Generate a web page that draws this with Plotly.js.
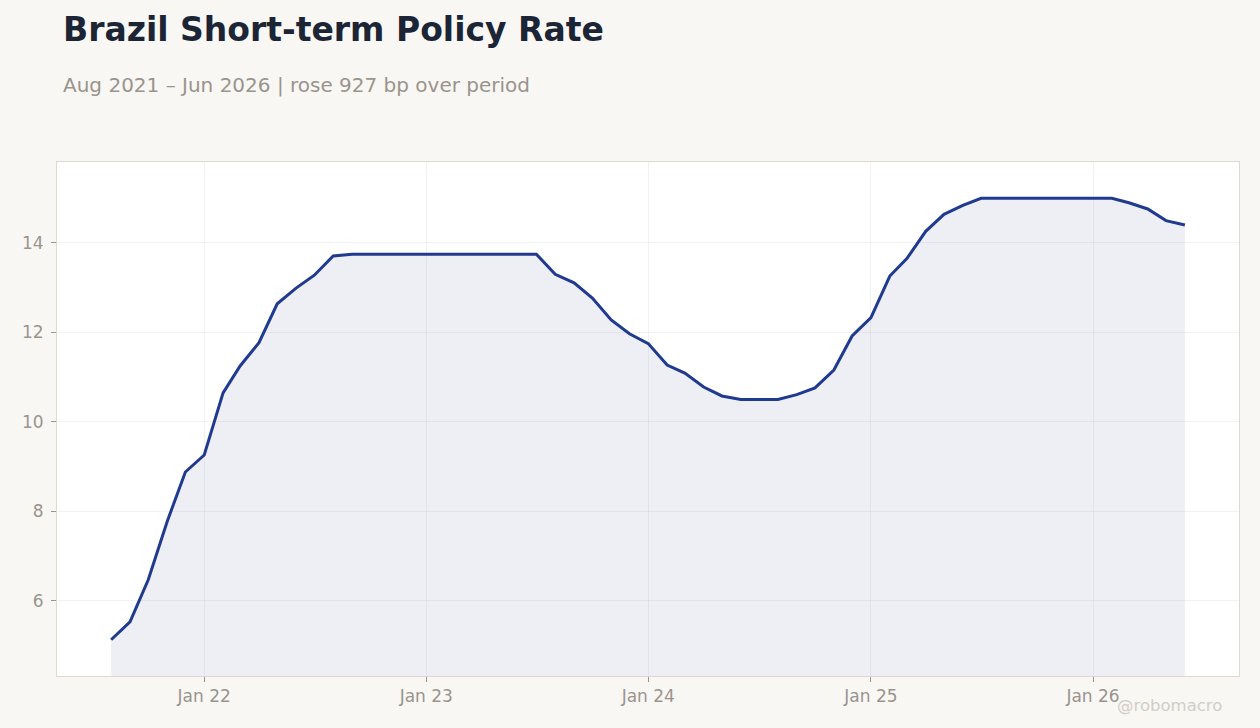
<!DOCTYPE html>
<html>
<head>
<meta charset="utf-8">
<script src="https://cdn.plot.ly/plotly-3.0.1.min.js"></script>
<style>
  html, body { margin: 0; padding: 0; background: #f8f7f4; }
  #chart { width: 1260px; height: 728px; }
</style>
</head>
<body>
<div id="chart"></div>
<script>
// monthly policy rate, Aug 2021 - Jun 2026
let meses = [
  '2021-08-01','2021-09-01','2021-10-01','2021-11-01','2021-12-01',
  '2022-01-01','2022-02-01','2022-03-01','2022-04-01','2022-05-01','2022-06-01',
  '2022-07-01','2022-08-01','2022-09-01','2022-10-01','2022-11-01','2022-12-01',
  '2023-01-01','2023-02-01','2023-03-01','2023-04-01','2023-05-01','2023-06-01',
  '2023-07-01','2023-08-01','2023-09-01','2023-10-01','2023-11-01','2023-12-01',
  '2024-01-01','2024-02-01','2024-03-01','2024-04-01','2024-05-01','2024-06-01',
  '2024-07-01','2024-08-01','2024-09-01','2024-10-01','2024-11-01','2024-12-01',
  '2025-01-01','2025-02-01','2025-03-01','2025-04-01','2025-05-01','2025-06-01',
  '2025-07-01','2025-08-01','2025-09-01','2025-10-01','2025-11-01','2025-12-01',
  '2026-01-01','2026-02-01','2026-03-01','2026-04-01','2026-05-01','2026-06-01'
];
let taxa = [
  5.13, 5.53, 6.47, 7.77, 8.88,
  9.26, 10.65, 11.25, 11.77, 12.64, 12.99,
  13.28, 13.71, 13.75, 13.75, 13.75, 13.75,
  13.75, 13.75, 13.75, 13.75, 13.75, 13.75,
  13.75, 13.30, 13.11, 12.77, 12.28, 11.97,
  11.75, 11.27, 11.09, 10.78, 10.58, 10.50,
  10.50, 10.50, 10.61, 10.76, 11.16, 11.92,
  12.33, 13.26, 13.65, 14.26, 14.64, 14.84,
  15.00, 15.00, 15.00, 15.00, 15.00, 15.00,
  15.00, 15.00, 14.90, 14.76, 14.50, 14.40
];
let ticksX = ['2022-01-01','2023-01-01','2024-01-01','2025-01-01','2026-01-01'];
let rotulosX = ['Jan 22','Jan 23','Jan 24','Jan 25','Jan 26'];

let serie = {
  x: meses,
  y: taxa,
  type: 'scatter',
  mode: 'lines',
  fill: 'tozeroy',
  fillcolor: 'rgba(30,50,130,0.08)',
  line: { color: '#1f3a8f', width: 3 },
  hoverinfo: 'x+y'
};

let cinza = '#9a948d';
let layout = {
  width: 1260,
  height: 728,
  paper_bgcolor: '#f8f7f4',
  plot_bgcolor: '#ffffff',
  font: { family: 'DejaVu Sans, sans-serif', color: cinza, size: 17 },
  margin: { l: 57, r: 21, t: 162, b: 52 },
  showlegend: false,
  xaxis: {
    type: 'date',
    range: ['2021-05-04', '2026-08-29'],
    tickvals: ticksX,
    ticktext: rotulosX,
    showgrid: true,
    gridcolor: 'rgba(0,0,0,0.05)',
    showline: true,
    linecolor: '#ddd8d0',
    mirror: true,
    ticks: 'outside',
    ticklen: 5,
    tickcolor: '#9a948d',
    zeroline: false,
    tickfont: { size: 17, color: cinza }
  },
  yaxis: {
    range: [4.32, 15.81],
    tickvals: [6, 8, 10, 12, 14],
    showgrid: true,
    gridcolor: 'rgba(0,0,0,0.05)',
    showline: true,
    linecolor: '#ddd8d0',
    mirror: true,
    ticks: 'outside',
    ticklen: 5,
    tickcolor: '#9a948d',
    ticklabelstandoff: 4,
    zeroline: false,
    tickfont: { size: 17, color: cinza }
  },
  annotations: [
    {
      text: '<b>Brazil Short-term Policy Rate</b>',
      xref: 'paper', yref: 'paper', x: 0, y: 1.0,
      xanchor: 'left', yanchor: 'middle',
      xshift: 4, yshift: 133,
      showarrow: false,
      font: { size: 33, color: '#1c2535', family: 'DejaVu Sans, sans-serif' }
    },
    {
      text: 'Aug 2021 – Jun 2026 | rose 927 bp over period',
      xref: 'paper', yref: 'paper', x: 0, y: 1.0,
      xanchor: 'left', yanchor: 'middle',
      xshift: 4, yshift: 77,
      showarrow: false,
      font: { size: 20, color: '#9a948d', family: 'DejaVu Sans, sans-serif' }
    },
    {
      text: '@robomacro',
      xref: 'paper', yref: 'paper', x: 1.0, y: 0,
      xanchor: 'right', yanchor: 'middle',
      xshift: -15, yshift: -29,
      showarrow: false,
      font: { size: 16.5, color: '#d2cdc6', family: 'DejaVu Sans, sans-serif' }
    }
  ]
};

Plotly.newPlot('chart', [serie], layout, { displayModeBar: false });
</script>
</body>
</html>
